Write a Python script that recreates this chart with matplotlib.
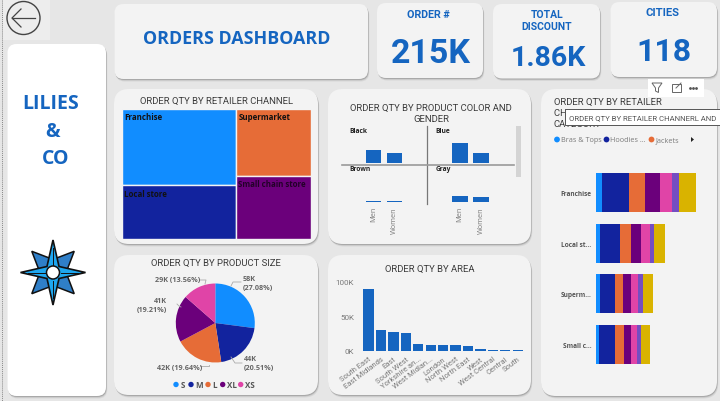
import numpy as np
import matplotlib
matplotlib.use("Agg")
import matplotlib.pyplot as plt
from matplotlib.patches import FancyBboxPatch, Rectangle, Circle, Polygon

W, H = 720, 402
BLUE = "#1565C0"
PAL = ["#118DFF", "#12239E", "#E66C37", "#6B007B", "#E044A7", "#744EC2", "#D9B300"]
TITLE_C = "#3A3A3A"
GREY = "#7A7A7A"
FONT = "Roboto"

channels = ["Franchise", "Local store", "Supermarket", "Small chain store"]
channel_qty = [76.8, 53.0, 44.0, 41.2]

colors_panels = ["Black", "Blue", "Brown", "Gray"]
genders = ["Men", "Women"]
men_qty = [19.0, 28.0, 2.4, 9.5]
women_qty = [14.0, 15.0, 1.8, 8.0]

sizes = ["S", "M", "L", "XL", "XS"]
size_qty = [58, 44, 42, 41, 29]
size_pct = [27.08, 20.51, 19.64, 19.21, 13.56]

areas = ["South East", "East Midlands", "East", "South West", "Yorkshire an...", "West Midlan...",
         "London", "North West", "North East", "West", "West Central", "Central", "South"]
area_qty = [89, 30, 26.8, 25.8, 10, 9, 8.6, 8.1, 7, 2.9, 1.4, 1.3, 1.2]

stack_cats = ["Franchise", "Local st...", "Superm...", "Small c..."]
bras = [4.6, 3.1, 3.1, 2.3]
hoodies = [20.5, 15.4, 11.5, 12.3]
jackets = [12.8, 8.2, 6.2, 6.7]
cat4 = [11.3, 7.7, 6.2, 5.4]
cat5 = [9.0, 6.7, 5.1, 4.9]
cat6 = [5.6, 3.6, 4.1, 3.3]
cat7 = [13.3, 8.5, 7.9, 6.4]
legend_names = ["Bras & Tops", "Hoodies ...", "Jackets"]


def axpx(x0, y0, x1, y1, **kw):
    return fig.add_axes([x0 / W, 1 - y1 / H, (x1 - x0) / W, (y1 - y0) / H], **kw)


def card(x0, y0, x1, y1, fc="#F3F3F3", r=9):
    for off, a in ((2.5, .10), (1.5, .18), (0.8, .25)):
        bg.add_patch(FancyBboxPatch((x0 + r + off * .5, y0 + r + off), x1 - x0 - 2 * r, y1 - y0 - 2 * r,
                                    boxstyle=f"round,pad={r},rounding_size={r}", fc="#555555", ec="none", alpha=a))
    bg.add_patch(FancyBboxPatch((x0 + r, y0 + r), x1 - x0 - 2 * r, y1 - y0 - 2 * r,
                                boxstyle=f"round,pad={r},rounding_size={r}", fc=fc, ec="none"))


def txt(x, y, s, size=7, color=TITLE_C, weight="normal", ha="center", va="center", fam=FONT, **kw):
    return over.text(x, y, s, fontsize=size, color=color, fontweight=weight, ha=ha, va=va, family=fam, **kw)


fig = plt.figure(figsize=(W / 100, H / 100), dpi=100, facecolor="#E6E6E6")
bg = axpx(0, 0, W, H, zorder=0)
bg.set_xlim(0, W); bg.set_ylim(H, 0); bg.axis("off")
over = axpx(0, 0, W, H, zorder=10)
over.set_xlim(0, W); over.set_ylim(H, 0); over.axis("off"); over.patch.set_alpha(0)

# page furniture
bg.plot([1.5, 1.5], [0, H], color="#888888", lw=.7, ls=(0, (1, 1)))
bg.add_patch(Rectangle((3, 0), 47, 41, fc="#EDEDED", ec="none"))
bg.add_patch(Circle((23.5, 19), 16.5, fc="none", ec="#444444", lw=1))
bg.plot([12, 35], [19, 19], color="#444444", lw=.9)
bg.plot([21, 12, 21], [10, 19, 28], color="#444444", lw=.9)

card(7.5, 45, 106, 397, fc="white")
card(114.5, 5, 368, 80)
card(377, 4, 483, 79)
card(493, 5, 600, 79.5)
card(610.5, 3, 717, 78)
card(114, 90, 318, 245, r=15)
card(328, 90, 531, 245, r=15)
card(114, 256, 318, 396, r=15)
card(328, 256, 531, 396, r=15)
card(541, 90, 717, 397, r=15)

# logo text and star
txt(51, 104, "LILIES", 14, BLUE, "bold", fam="Open Sans")
txt(53, 132, "&", 14, BLUE, "bold", fam="Open Sans")
txt(56, 159, "CO", 14, BLUE, "bold", fam="Open Sans")
cx, cy = 53, 273.5
for a in np.radians(np.arange(-45, 315, 90)):
    pts = [(cx + 13 * np.sin(a - .8), cy - 13 * np.cos(a - .8)), (cx + 30 * np.sin(a), cy - 30 * np.cos(a)),
           (cx + 13 * np.sin(a + .8), cy - 13 * np.cos(a + .8)), (cx, cy)]
    bg.add_patch(Polygon(pts, fc="#2F7FC8", ec="#111111", lw=1.1))
ang = np.radians(np.arange(0, 360, 45))
R = [32.5, 8.5]
star = []
for i in range(8):
    r = R[i % 2]
    star.append((cx + r * np.sin(ang[i]), cy - r * np.cos(ang[i])))
bg.add_patch(Polygon(star, fc="#1EA7F0", ec="#111111", lw=1.2))
for a in ang[::2]:
    bg.plot([cx + 8 * np.sin(a), cx + 25 * np.sin(a)], [cy - 8 * np.cos(a), cy - 25 * np.cos(a)], color="#111111", lw=.7)
bg.add_patch(Circle((cx, cy), 6.5, fc="white", ec="#111111", lw=1.1))

# KPI text
txt(237, 38.5, "ORDERS DASHBOARD", 12.9, BLUE, "bold", fam="Open Sans")
txt(428, 14.5, "ORDER #", 7.7, BLUE, "bold")
txt(431, 54, "215K", 24.5, BLUE, "bold")
txt(547, 14.5, "TOTAL", 7.5, BLUE, "bold")
txt(547, 26.5, "DISCOUNT", 7.5, BLUE, "bold")
txt(548.5, 59, "1.86K", 20.5, BLUE, "bold")
txt(663, 13, "CITIES", 8.1, BLUE, "bold")
txt(664, 52, "118", 23, BLUE, "bold")

# Treemap
tree = axpx(122, 109.5, 311, 239.5)
tree.set_xlim(0, 1); tree.set_ylim(1, 0); tree.axis("off")
total = sum(channel_qty)
left = channel_qty[0] + channel_qty[1]
right = channel_qty[2] + channel_qty[3]
lw_ = left / total
rects = [(0, 0, lw_, channel_qty[0] / left), (0, channel_qty[0] / left, lw_, channel_qty[1] / left),
         (lw_, 0, 1 - lw_, channel_qty[2] / right), (lw_, channel_qty[2] / right, 1 - lw_, channel_qty[3] / right)]
for (x, y, w, h), name, c in zip(rects, channels, [PAL[0], PAL[1], PAL[2], PAL[3]]):
    tree.add_patch(Rectangle((x, y), w, h, fc=c, ec="#F3F3F3", lw=1))
    tree.text(x + .012, y + 8 / 130, name, fontsize=5.7, fontweight="bold", color="#111111" if c != PAL[3] else "#220028",
              va="center", ha="left", family="Open Sans")
txt(216.5, 101, "ORDER QTY BY RETAILER CHANNEL", 6.8)

# Small multiples
txt(431, 108, "ORDER QTY BY PRODUCT COLOR AND", 6.8)
txt(431, 119, "GENDER", 6.8)
panels = [(360.5, 126, 0), (446.8, 126, 1), (360.5, 165, 2), (446.8, 165, 3)]
for x0, y0, i in panels:
    a = axpx(x0, y0, x0 + 47, y0 + 38.3)
    a.set_xlim(-.62, 1.62); a.set_ylim(0, 54); a.axis("off")
    a.bar([0, 1], [men_qty[i], women_qty[i]], width=.76, color=BLUE, ec="none")
    txt(x0 - 11, y0 + 5.5 if y0 == 126 else y0 + 5, colors_panels[i], 4.8, "#222222", "bold", ha="left", fam="Open Sans")
over.plot([427.3, 427.3], [127, 205], color="#777777", lw=.9)
over.plot([342, 514], [165.7, 165.7], color="#9A9A9A", lw=1.2)
over.add_patch(Rectangle((516, 127), 5, 51, fc="#D4D4D4", ec="none"))
for x in (373.5, 394.5, 459.8, 481):
    txt(x, 207, genders[0] if x in (373.5, 459.8) else genders[1], 5.3, GREY, rotation=90, va="top", fam="Open Sans")

# Pie
pie_ax = axpx(215.3 - 39.5, 324 - 39.5, 215.3 + 39.5, 324 + 39.5)
pie_ax.pie(size_pct, colors=PAL[:5], startangle=90, counterclock=False, radius=1,
           wedgeprops=dict(ec="none"))
pie_ax.set_xlim(-1, 1); pie_ax.set_ylim(-1, 1)
txt(216, 263, "ORDER QTY BY PRODUCT SIZE", 6.8)
lab = [(243, 279.5, f"{size_qty[0]}K", "left"), (243, 289, f"({size_pct[0]:.2f}%)", "left"),
       (244, 359.5, f"{size_qty[1]}K", "left"), (244, 368.5, f"({size_pct[1]:.2f}%)", "left"),
       (157, 368.5, f"{size_qty[2]}K ({size_pct[2]:.2f}%)", "left"),
       (160, 302, f"{size_qty[3]}K", "center"), (151.5, 311, f"({size_pct[3]:.2f}%)", "center"),
       (155, 281, f"{size_qty[4]}K ({size_pct[4]:.2f}%)", "left")]
for x, y, s, ha in lab:
    txt(x, y, s, 5.2, "#666666", "bold", ha=ha, fam="Open Sans")
for xs, ys in [([231, 233, 241], [287, 283, 283]), ([231, 235, 242], [358, 364, 364]),
               ([209, 209, 200], [366, 367, 367]), ([177, 179, 181], [305, 307, 308]),
               ([205, 206, 200], [285, 281, 281])]:
    over.plot(xs, ys, color="#AAAAAA", lw=.6)
leg_x = [176, 191, 208, 222.7, 240.7]
for x, c, s in zip(leg_x, PAL, sizes):
    over.add_patch(Circle((x, 385.5), 2.7, fc=c, ec="none"))
    txt(x + 4.2, 385.5, s, 5.8, "#555555", "bold", ha="left", fam="Open Sans")

# Area bars
ar = axpx(362.3, 278, 523.9, 352)
x = np.arange(len(areas))
ar.bar(x, area_qty, width=.83, color=BLUE, ec="none")
ar.set_xlim(-.5, 12.5); ar.set_ylim(0, 106)
ar.patch.set_alpha(0)
for s in ar.spines.values():
    s.set_visible(False)
ar.set_yticks([0, 50, 100]); ar.set_yticklabels(["0K", "50K", "100K"], fontsize=5.8, color=GREY, family=FONT)
ar.tick_params(length=0, pad=6)
ar.set_xticks(x)
ar.set_xticklabels(areas, rotation=37, ha="right", rotation_mode="anchor", fontsize=5.5, color=GREY, family=FONT)
ar.tick_params(axis="x", pad=3)
txt(430, 269, "ORDER QTY BY AREA", 6.8)

# Stacked bars
st = axpx(596, 167, 712, 372)
series = [bras, hoodies, jackets, cat4, cat5, cat6, cat7]
y = np.arange(len(stack_cats))
cum = np.zeros(len(stack_cats))
for vals, c in zip(series, PAL):
    st.barh(y, vals, left=cum, height=.77, color=c, ec="none")
    cum += np.array(vals)
st.set_ylim(3.52, -.52)
st.set_xlim(0, 116 * 76.8 / 100)
st.patch.set_alpha(0)
for s in st.spines.values():
    s.set_visible(False)
st.set_xticks([])
st.set_yticks(y); st.set_yticklabels(stack_cats, fontsize=4.7, color="#555555", fontweight="bold", family="Open Sans")
st.tick_params(length=0, pad=3.5)
txt(553.5, 102, "ORDER QTY BY RETAILER", 6.8, ha="left")
txt(553.5, 113, "CHANNEL AND", 6.8, ha="left")
txt(553.5, 124.5, "CATEGORY", 6.8, ha="left")
for x, c, s in zip([557, 606.5, 651.5], PAL, legend_names):
    over.add_patch(Circle((x, 140.5), 2.9, fc=c, ec="none"))
    txt(x + 4, 140.5, s, 5.2, GREY, ha="left", fam="Open Sans")
over.add_patch(Polygon([(691, 138), (691, 143), (694, 140.5)], fc="#222222", ec="none"))

# Toolbar and tooltip
over.add_patch(Rectangle((648, 80), 56, 18, fc="white", ec="none"))
over.add_patch(Polygon([(652, 84), (662, 84), (658.5, 89), (658.5, 93.5), (655.5, 92), (655.5, 89)],
                       fc="none", ec="#666666", lw=.7))
over.add_patch(Rectangle((671.5, 85), 9, 8, fc="none", ec="#666666", lw=.7))
over.plot([676, 681], [89, 84], color="#666666", lw=.7)
over.plot([690, 693, 696], [88.5, 88.5, 88.5], ls="none", marker="o", ms=1, color="#555555")
over.add_patch(Rectangle((564.5, 110), 156, 16, fc="white", ec="#555555", lw=.7, zorder=5))
txt(569, 118, "ORDER QTY BY RETAILER CHANNERL AND", 5.6, "#555555", ha="left", zorder=6)

fig.savefig("out.png", dpi=100, facecolor=fig.get_facecolor())
